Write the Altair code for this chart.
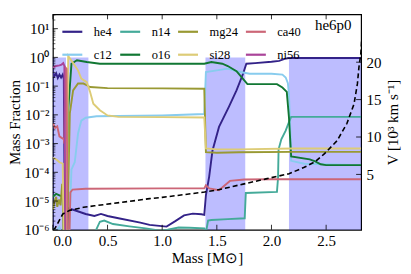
import altair as alt
import pandas as pd

FONT = "Liberation Serif"
W, H = 309, 216

species = ["he4", "c12", "n14", "o16", "mg24", "si28", "ca40", "ni56"]
colors = ["#332288", "#88CCEE", "#44AA99", "#117733", "#999933", "#DDCC77", "#CC6677", "#AA4499"]

# log10 mass fractions
he4_m = [0.0, 0.015, 0.03, 0.045, 0.06, 0.075, 0.09, 0.1, 0.11, 0.13, 0.14, 0.2, 0.3, 0.38, 0.44, 0.5, 0.6, 0.8, 0.885, 1.04, 1.12, 1.2, 1.28, 1.36, 1.385, 1.40, 1.43, 1.46, 1.52, 1.61, 1.68, 1.74, 1.77, 1.85, 2.0, 2.07, 2.12, 2.16, 2.82]
he4_l = [-0.5, -0.65, -0.55, -0.72, -0.6, -0.7, -0.6, -0.75, -6.5, -6.5, -5.25, -5.32, -5.45, -5.52, -5.45, -5.52, -5.6, -5.75, -5.83, -5.89, -5.7, -5.5, -5.44, -5.46, -5.48, -4.8, -4.15, -3.25, -2.42, -1.72, -1.15, -0.57, -0.22, -0.2, -0.15, -0.12, -0.05, -0.02, -0.02]

c12_m = [0.0, 0.03, 0.06, 0.08, 0.09, 0.145, 0.17, 0.2, 0.23, 0.26, 0.3, 0.4, 1.0, 1.385, 1.40, 1.5, 1.6, 1.7, 1.8, 2.0, 2.1, 2.13, 2.15, 2.16, 2.17, 2.18, 2.3, 2.82]
c12_l = [-5.95, -6.05, -5.9, -6.2, -6.5, -6.5, -3.9, -3.65, -2.65, -2.2, -2.1, -2.05, -2.02, -1.97, -0.51, -0.45, -0.39, -0.5, -0.57, -0.57, -0.6, -0.7, -0.9, -1.3, -2.3, -3.6, -3.7, -3.75]

n14_m = [0.0, 0.04, 0.05, 0.36, 0.39, 0.43, 0.47, 0.55, 0.7, 0.85, 0.98, 1.05, 1.15, 1.25, 1.385, 1.40, 1.42, 1.45, 1.6, 1.755, 1.765, 2.05, 2.06, 2.065, 2.09, 2.13, 2.16, 2.18, 2.82]
n14_l = [-6.0, -6.3, -6.5, -6.5, -6.05, -5.72, -5.68, -5.8, -5.88, -5.95, -6.03, -6.0, -5.92, -5.93, -5.95, -6.1, -5.68, -5.66, -5.63, -5.6, -4.72, -4.68, -4.2, -3.2, -2.85, -2.55, -2.25, -2.07, -2.07]

o16_m = [0.0, 0.03, 0.06, 0.09, 0.1, 0.13, 0.14, 0.17, 0.22, 0.31, 0.43, 1.0, 1.385, 1.45, 1.55, 1.6, 1.68, 1.73, 1.78, 2.05, 2.1, 2.14, 2.16, 2.18, 2.35, 2.4, 2.45, 2.5, 2.82]
o16_l = [-4.85, -4.75, -4.8, -4.85, -6.5, -6.5, -1.84, -0.22, -0.1, -0.16, -0.22, -0.22, -0.22, -0.16, -0.22, -0.3, -0.48, -0.7, -0.93, -0.93, -1.05, -1.2, -2.1, -3.45, -3.55, -3.62, -3.72, -3.75, -3.75]

mg24_m = [0.0, 0.015, 0.03, 0.04, 0.055, 0.07, 0.085, 0.095, 0.1, 0.13, 0.155, 0.185, 0.23, 0.28, 0.31, 0.34, 0.5, 1.0, 1.385, 1.40, 1.5, 1.7, 2.2, 2.82]
mg24_l = [-5.3, -5.0, -4.85, -5.2, -4.95, -5.15, -4.4, -5.0, -6.5, -6.5, -1.95, -1.15, -0.91, -0.91, -0.97, -1.03, -1.07, -1.08, -1.09, -3.3, -3.32, -3.3, -3.29, -3.29]

si28_m = [0.0, 0.03, 0.06, 0.09, 0.1, 0.125, 0.14, 0.185, 0.23, 0.26, 0.31, 0.34, 0.37, 0.43, 0.5, 0.6, 1.0, 1.385, 1.40, 1.5, 1.7, 2.2, 2.82]
si28_l = [-3.5, -3.55, -3.65, -3.7, -6.5, -6.5, 0.05, -0.2, -0.45, -0.74, -0.86, -1.2, -1.61, -1.84, -2.02, -2.07, -2.08, -2.09, -3.17, -3.2, -3.2, -3.17, -3.17]

ca40_m = [0.0, 0.02, 0.04, 0.06, 0.08, 0.1, 0.105, 0.115, 0.125, 0.135, 0.15, 0.16, 0.18, 0.3, 1.0, 1.385, 1.40, 1.43, 1.52, 1.62, 1.75, 2.0, 2.82]
ca40_l = [-2.3, -2.45, -2.4, -2.75, -2.8, -2.85, -3.0, -0.35, -0.4, -6.5, -6.5, -4.7, -4.6, -4.57, -4.56, -4.56, -4.45, -4.56, -4.62, -4.3, -4.25, -4.24, -4.24]

ni56_m = [0.0, 0.03, 0.06, 0.08, 0.095, 0.105, 0.115]
ni56_l = [-0.35, -0.3, -0.28, -0.25, -0.2, -0.3, -6.5]

# velocity profile (10^3 km/s)
vel_m = [0.0, 0.02, 0.09, 0.155, 0.28, 0.38, 0.7, 0.885, 1.0, 1.387, 1.49, 1.74, 1.95, 2.16, 2.30, 2.40, 2.48, 2.60, 2.69, 2.755, 2.786, 2.80, 2.817, 2.83]
vel_v = [-2.4, -2.2, -0.3, 0.2, 0.6, 0.8, 1.4, 1.76, 1.93, 2.64, 2.87, 3.7, 4.4, 5.09, 5.95, 6.7, 7.7, 9.5, 11.8, 14.4, 17.1, 19.3, 21.1, 24.0]

# shaded zones
zone_start = [0.0, 0.149, 1.396, 2.16]
zone_end = [0.12, 0.325, 1.76, 2.82]

x_ticks = [0.0, 0.5, 1.0, 1.5, 2.0, 2.5]
y_major = [1e-6, 1e-5, 1e-4, 1e-3, 1e-2, 1e-1, 1.0, 10.0]
v_ticks = [5, 10, 15, 20]

series = {
    "he4": (he4_m, he4_l), "c12": (c12_m, c12_l), "n14": (n14_m, n14_l), "o16": (o16_m, o16_l),
    "mg24": (mg24_m, mg24_l), "si28": (si28_m, si28_l), "ca40": (ca40_m, ca40_l), "ni56": (ni56_m, ni56_l),
}
rows = []
for s, (ms, ls) in series.items():
    for i, (m, l) in enumerate(zip(ms, ls)):
        rows.append({"species": s, "m": m, "f": 10 ** l, "i": i})
df = pd.DataFrame(rows)

zones = pd.DataFrame({"m": zone_start, "m2": zone_end, "f": [1e-6] * 4, "f2": [1.0] * 4})
vel = pd.DataFrame({"m": vel_m, "v": vel_v})
minor = [k * 10 ** e for e in range(-6, 2) for k in range(2, 10) if k * 10 ** e < 31]
ymaj = pd.DataFrame({"f": y_major})
ymin = pd.DataFrame({"f": minor})
xt = pd.DataFrame({"m": x_ticks})
vt = pd.DataFrame({"v": v_ticks})

xscale = alt.Scale(domain=[0, 2.82], nice=False, zero=False)
xaxis = alt.Axis(values=x_ticks, format=".1f", title="Mass [M⊙]", ticks=False, tickSize=0,
                 labelPadding=4, titlePadding=2, domain=False)
yscale = alt.Scale(type="log", domain=[1e-6, 31.6], nice=False)
yaxis = alt.Axis(values=y_major, ticks=False, tickSize=0, labelPadding=4, domain=False,
                 title="Mass Fraction", titleX=-38, titleY=H / 2, titleBaseline="middle",
                 labelExpr="['10⁻⁶','10⁻⁵','10⁻⁴','10⁻³','10⁻²','10⁻¹','10⁰','10¹'][round(log(datum.value)/LN10)+6]")

X = alt.X("m:Q", scale=xscale, axis=xaxis)
Y = alt.Y("f:Q", scale=yscale, axis=yaxis)

rects = alt.Chart(zones).mark_rect(color="#0000ff", opacity=0.26).encode(
    x=X, x2="m2:Q", y=Y, y2="f2:Q")

color = alt.Color("species:N", scale=alt.Scale(domain=species, range=colors),
                  legend=alt.Legend(orient="none", legendX=8, legendY=6, columns=4, title=None,
                                    direction="vertical", gridAlign="each",
                                    symbolType="stroke", symbolSize=400, symbolStrokeWidth=2.2,
                                    labelFont=FONT, labelFontSize=12.5, labelOffset=10,
                                    columnPadding=3, rowPadding=5, padding=0))

lines = [
    alt.Chart(df).transform_filter(alt.datum.species == s).mark_line(strokeWidth=1.9, clip=True).encode(
        x=X, y=Y, color=color, order="i:Q")
    for s in species
]

ymaj_t = alt.Chart(ymaj).mark_rule(color="black", strokeWidth=0.8).encode(
    y=Y, x=alt.value(0), x2=alt.value(5))
ymin_t = alt.Chart(ymin).mark_rule(color="black", strokeWidth=0.6).encode(
    y=Y, x=alt.value(0), x2=alt.value(2.5))
xb_t = alt.Chart(xt).mark_rule(color="black", strokeWidth=0.8).encode(
    x=X, y=alt.value(H), y2=alt.value(H - 5))
xt_t = alt.Chart(xt).mark_rule(color="black", strokeWidth=0.8).encode(
    x=X, y=alt.value(0), y2=alt.value(5))
label = alt.Chart(pd.DataFrame({"t": ["he6p0"]})).mark_text(
    font=FONT, fontSize=15, align="center", baseline="middle").encode(
    x=alt.value(281), y=alt.value(11), text="t:N")

log_group = alt.layer(rects, *lines, ymaj_t, ymin_t, xb_t, xt_t, label)

V = alt.Y("v:Q", scale=alt.Scale(domain=[-2.4, 26.4], nice=False, zero=False),
          axis=alt.Axis(orient="right", values=v_ticks, ticks=False, tickSize=0, labelPadding=5,
                        domain=False, title="V [10³ km s⁻¹]", titleAngle=270, titleX=31,
                        titleY=H / 2, titleBaseline="middle"))
vline = alt.Chart(vel).mark_line(color="black", strokeDash=[5, 3], strokeWidth=1.6, clip=True).encode(
    x=X, y=V)
vt_t = alt.Chart(vt).mark_rule(color="black", strokeWidth=0.8).encode(
    y=V, x=alt.value(W), x2=alt.value(W - 5))
v_group = alt.layer(vline, vt_t)

chart = alt.layer(log_group, v_group).resolve_scale(y="independent").properties(
    width=W, height=H,
    autosize=alt.AutoSizeParams(type="none"),
    padding={"left": 45, "top": 6, "right": 42, "bottom": 38},
).configure_view(stroke="black", strokeWidth=1.2).configure_axis(
    grid=False, labelFont=FONT, titleFont=FONT, labelFontSize=15, titleFontSize=15,
    labelColor="black", titleColor="black", titleFontWeight="normal")

chart.save("out.html", embed_options={"renderer": "svg", "actions": False})
